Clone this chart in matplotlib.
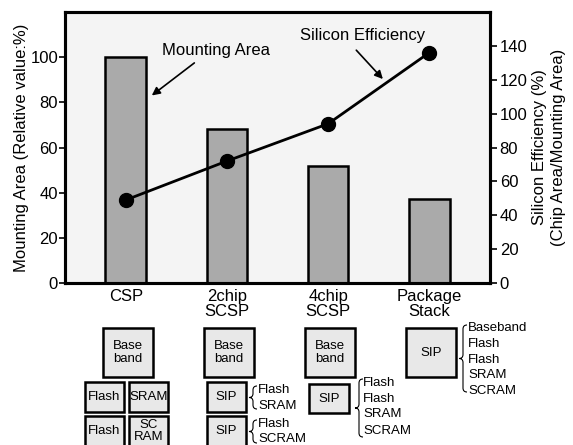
import numpy as np
import matplotlib.pyplot as plt
from matplotlib.patches import Rectangle, PathPatch
from matplotlib.path import Path

plt.rcParams['font.family'] = ['Liberation Sans', 'DejaVu Sans']

# chart data
categories = ["CSP", "2chip\nSCSP", "4chip\nSCSP", "Package\nStack"]
mount_area = [100, 68, 52, 37]
si_eff = [49, 72, 94, 136]

# chip make-up drawn under each package
csp_boxes = [["Base\nband"], ["Flash", "SRAM"], ["Flash", "SC\nRAM"]]
scsp2_boxes = ["Base\nband", "SIP", "SIP"]
scsp2_lists = [["Flash", "SRAM"], ["Flash", "SCRAM"]]
scsp4_boxes = ["Base\nband", "SIP"]
scsp4_list = ["Flash", "Flash", "SRAM", "SCRAM"]
stack_box = "SIP"
stack_list = ["Baseband", "Flash", "Flash", "SRAM", "SCRAM"]

W, H = 573, 445
fig = plt.figure(figsize=(W / 100, H / 100), dpi=100)
ax = fig.add_axes([65 / W, 1 - 283 / H, 425 / W, 271 / H])
ax.set_facecolor("#f4f4f4")

x = np.arange(len(categories))
ax.bar(x, mount_area, width=0.4, color="#aaaaaa", edgecolor="black", linewidth=1.8, zorder=2)
ax.set_xlim(-0.6, 3.6)
ax.set_ylim(0, 120)
ax.set_yticks(range(0, 101, 20))
ax.set_xticks(x)
ax.set_xticklabels(categories, fontsize=12, linespacing=1.05)
ax.tick_params(axis="x", length=0, pad=4)
ax.tick_params(axis="y", labelsize=12, width=1.2, length=4, pad=1)
ax.set_ylabel("Mounting Area (Relative value:%)", fontsize=12, labelpad=1)
for s in ax.spines.values():
    s.set_linewidth(2.2)

ax2 = ax.twinx()
ax2.plot(x, si_eff, color="black", lw=2, marker="o", markersize=10, zorder=3)
ax2.set_ylim(0, 160)
ax2.set_yticks(range(0, 141, 20))
ax2.tick_params(axis="y", labelsize=12, width=1.2, length=5, pad=2)
ax2.set_ylabel("Silicon Efficiency (%)\n(Chip Area/Mounting Area)", fontsize=12,
               labelpad=3, linespacing=1.35)
for s in ax2.spines.values():
    s.set_linewidth(2.2)

# annotations
ax.text(0.895, 103, "Mounting Area", fontsize=12, ha="center", va="center")
ax.annotate("", xy=(0.236, 82.3), xytext=(0.70, 98.2),
            arrowprops=dict(arrowstyle="-|>", color="black", lw=1.2, mutation_scale=12))
ax.text(2.34, 109.7, "Silicon Efficiency", fontsize=12, ha="center", va="center")
ax.annotate("", xy=(2.56, 89.4), xytext=(2.26, 104),
            arrowprops=dict(arrowstyle="-|>", color="black", lw=1.2, mutation_scale=12))

# lower drawing in pixel coords
d = fig.add_axes([0, 0, 1, 1])
d.set_xlim(0, W)
d.set_ylim(H, 0)
d.axis("off")


def box(x0, y0, w, h, label, fs=9.5):
    d.add_patch(Rectangle((x0, y0), w, h, facecolor="#e8e8e8", edgecolor="black", lw=1.8))
    d.text(x0 + w / 2, y0 + h / 2, label, ha="center", va="center", fontsize=fs, linespacing=1.1)


def brace(xb, y0, y1, w=4):
    ym = (y0 + y1) / 2
    verts = [(xb + w, y0), (xb, y0), (xb, y0 + w), (xb, ym - w), (xb, ym), (xb - w, ym),
             (xb, ym), (xb, ym + w), (xb, y1 - w), (xb, y1), (xb + w, y1)]
    codes = [Path.MOVETO, Path.CURVE3, Path.CURVE3, Path.LINETO, Path.CURVE3, Path.CURVE3,
             Path.CURVE3, Path.CURVE3, Path.LINETO, Path.CURVE3, Path.CURVE3]
    d.add_patch(PathPatch(Path(verts, codes), facecolor="none", edgecolor="black", lw=0.8))


def text_list(xt, ys, items):
    for yy, t in zip(ys, items):
        d.text(xt, yy, t, ha="left", va="center", fontsize=9.5)


# CSP
box(103, 328, 50, 49, csp_boxes[0][0])
box(85, 382, 39, 30, csp_boxes[1][0])
box(129, 382, 39, 30, csp_boxes[1][1])
box(85, 416, 39, 30, csp_boxes[2][0])
box(129, 416, 39, 30, csp_boxes[2][1])

# 2chip SCSP
box(204, 328, 50, 49, scsp2_boxes[0])
box(207, 382, 39, 30, scsp2_boxes[1])
box(207, 416, 39, 30, scsp2_boxes[2])
brace(253, 386, 409)
text_list(258, [390, 406], scsp2_lists[0])
brace(253, 420, 443)
text_list(258, [424, 439], scsp2_lists[1])

# 4chip SCSP
box(305, 328, 50, 49, scsp4_boxes[0])
box(309, 384, 40, 29, scsp4_boxes[1])
brace(359, 379, 437)
text_list(363, [383, 399, 414, 431], scsp4_list)

# Package Stack
box(406, 328, 50, 49, stack_box)
brace(463, 325, 392)
text_list(468, [328, 344, 360, 375, 391], stack_list)

fig.savefig("out.png", dpi=100)
